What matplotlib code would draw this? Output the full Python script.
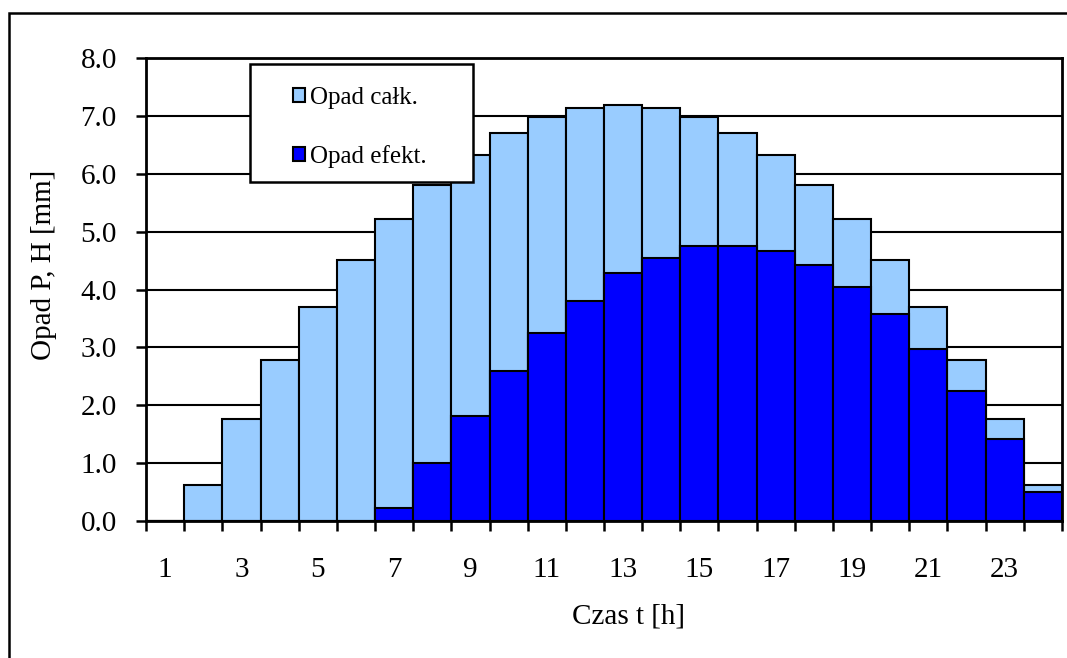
import matplotlib
matplotlib.use("Agg")
import matplotlib.pyplot as plt
from matplotlib.patches import Rectangle

# datos del grafico
godziny = list(range(1, 25))
opad_calk = [0.0, 0.62, 1.76, 2.78, 3.69, 4.51, 5.22, 5.81, 6.32, 6.71, 6.98, 7.14,
             7.18, 7.14, 6.98, 6.71, 6.32, 5.81, 5.22, 4.51, 3.69, 2.78, 1.76, 0.62]
opad_efekt = [0.0, 0.0, 0.0, 0.0, 0.0, 0.0, 0.23, 1.01, 1.81, 2.60, 3.25, 3.80,
              4.28, 4.55, 4.75, 4.75, 4.67, 4.43, 4.05, 3.58, 2.98, 2.24, 1.42, 0.50]
etiquetas_x = [str(h) for h in range(1, 24, 2)]

plt.rcParams['font.family'] = ['Liberation Serif', 'DejaVu Serif']

fig = plt.figure(figsize=(10.67, 6.58), dpi=100)
ax = fig.add_axes([146 / 1067, 1 - 521 / 658, (1062 - 146) / 1067, (521 - 58) / 658])

# 1) barras (la oscura encima de la clara)
ax.bar(godziny, opad_calk, width=1.0, color='#99CCFF', edgecolor='black',
       linewidth=1.5, zorder=2, label='Opad całk.')
ax.bar(godziny, opad_efekt, width=1.0, color='#0000FF', edgecolor='black',
       linewidth=1.5, zorder=3, label='Opad efekt.')

# 2) ejes
ax.set_xlim(0.5, 24.5)
ax.set_ylim(0, 8)
ax.set_yticks([i * 1.0 for i in range(9)])
ax.set_yticklabels(['%.1f' % (i * 1.0) for i in range(9)])
ax.yaxis.grid(True, color='black', linewidth=1.5, zorder=0)
ax.set_axisbelow(True)

ax.set_xticks([i + 0.5 for i in range(25)])
ax.set_xticklabels([])
ax.set_xticks(list(range(1, 24, 2)), minor=True)
ax.set_xticklabels(etiquetas_x, minor=True)
ax.tick_params(axis='x', which='major', direction='out', length=7, width=1.8, color='black')
ax.tick_params(axis='x', which='minor', length=0, pad=26, labelsize=21)
ax.tick_params(axis='y', direction='out', length=7, width=1.8, pad=14, labelsize=21)

for s in ax.spines.values():
    s.set_linewidth(2.0)
    s.set_color('black')

# 3) titulos de los ejes
ax.set_xlabel('Czas t [h]', fontsize=21)
ax.xaxis.set_label_coords(0.527, -0.179)
ax.set_ylabel('Opad P, H [mm]', fontsize=21)
ax.yaxis.set_label_coords(-0.097, 0.553)

# 4) leyenda con marco propio
marco = Rectangle((0.1135, 0.732), 0.2434, 0.255, transform=ax.transAxes,
                  facecolor='white', edgecolor='black', linewidth=1.8, zorder=5)
ax.add_patch(marco)
leg = ax.legend(loc='upper left', bbox_to_anchor=(0.160, 0.937), frameon=False,
                fontsize=18, handlelength=0.5, handleheight=0.5, handletextpad=0.2,
                labelspacing=1.42, borderpad=0, borderaxespad=0)
leg.set_zorder(6)

# 5) marco exterior de la figura
fig.patches.append(Rectangle((9 / 1067, -0.05), 1.1, 1.05 - 13 / 658,
                             transform=fig.transFigure, fill=False,
                             edgecolor='black', linewidth=1.8))

fig.savefig('out.png', dpi=100)
